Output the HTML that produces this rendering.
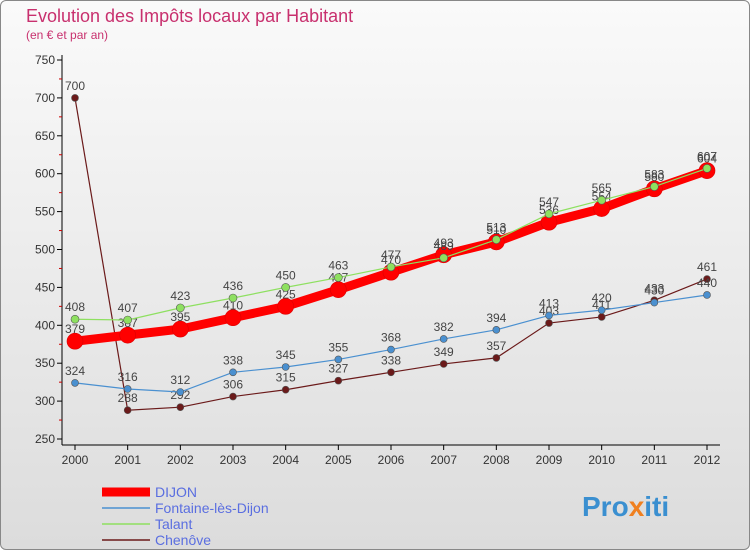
<!DOCTYPE html>
<html><head><meta charset="utf-8"><style>
body{margin:0;width:750px;height:550px;overflow:hidden;font-family:"Liberation Sans",sans-serif;}
#c{position:absolute;left:0;top:0;width:748px;height:548px;border:1px solid #888;border-radius:6px;background:linear-gradient(#fafafa,#dcdcdc);}
</style></head><body>
<div id="c"></div>
<svg id="s" width="750" height="550" style="position:absolute;left:0;top:0" font-family="Liberation Sans, sans-serif">
<text x="26" y="22" font-size="18" fill="#c8306e">Evolution des Impôts locaux par Habitant</text>
<text x="26" y="39" font-size="12" fill="#c8306e">(en € et par an)</text>
<g id="axes"></g><g id="series"></g><g id="legend"></g>
<text x="582" y="516" font-size="28" font-weight="bold" fill="#3a8fd0">Pro<tspan fill="#f08020">x</tspan>iti</text>
</svg>
<script>
const years=[2000,2001,2002,2003,2004,2005,2006,2007,2008,2009,2010,2011,2012];
const yTicks=[250,300,350,400,450,500,550,600,650,700,750];
const dijon=[379,387,395,410,425,447,470,493,510,536,554,580,604];
const fontaine=[324,316,312,338,345,355,368,382,394,413,420,430,440];
const talant=[408,407,423,436,450,463,477,489,513,547,565,583,607];
const chenove=[700,288,292,306,315,327,338,349,357,403,411,433,461];
const names=["DIJON","Fontaine-lès-Dijon","Talant","Chenôve"];
const NS="http://www.w3.org/2000/svg";
const X=i=>75+i*(707-75)/12;
const Y=v=>439-(v-250)*(439-60)/500;
function mk(t,a,p){const e=document.createElementNS(NS,t);for(const k in a)e.setAttribute(k,a[k]);p.appendChild(e);return e;}
const ax=document.getElementById('axes');
let l=mk('line',{x1:62,y1:55,x2:62,y2:445,stroke:'#000'},ax);


l=mk('line',{x1:62,y1:445,x2:720,y2:445,stroke:'#000'},ax);


yTicks.forEach(v=>{
  mk('line',{x1:57,y1:Y(v),x2:62,y2:Y(v),stroke:'#000'},ax);
  if(v<750)mk('line',{x1:59,y1:Y(v+25),x2:62,y2:Y(v+25),stroke:'#c00'},ax);
  const t=mk('text',{x:55,y:Y(v)+4,'font-size':12,'text-anchor':'end',fill:'#333'},ax);
  t.textContent=v;
  
  
});
years.forEach((yr,i)=>{
  mk('line',{x1:X(i),y1:445,x2:X(i),y2:450,stroke:'#000'},ax);
  const t=mk('text',{x:X(i),y:464,'font-size':12,'text-anchor':'middle',fill:'#333'},ax);
  t.textContent=yr;
  
  
});
const sg=document.getElementById('series');
const defs=[
 {d:chenove,c:'#6b1a1a',w:1.2,r:3.5,n:'chenove'},
 {d:fontaine,c:'#4a90d0',w:1.2,r:3.5,n:'fontaine'},
 {d:dijon,c:'#ff0000',w:9,r:8,n:'dijon'},
 {d:talant,c:'#8ee060',w:1.2,r:4,n:'talant'}];
defs.forEach(s=>{
  const g=mk('g',{},sg);
  
  
  const p=mk('polyline',{points:s.d.map((v,i)=>X(i)+','+Y(v)).join(' '),fill:'none',stroke:s.c,'stroke-width':s.w},g);
  
  
  s.d.forEach((v,i)=>{
    const c=mk('circle',{cx:X(i),cy:Y(v),r:s.r,fill:s.c,stroke:s.n=='dijon'?'#d00':'#555','stroke-width':0.6},g);
    
    
    const t=mk('text',{x:X(i),y:Y(v)-8,'font-size':12,'text-anchor':'middle',fill:'#444'},g);
    t.textContent=v;
    
    
  });
});
const lg=document.getElementById('legend');
const lc=['#ff0000','#4a90d0','#8ee060','#6b1a1a'],lw=[9,1.5,1.5,1.5];
names.forEach((n,i)=>{
  const y=492+i*16;
  const g=mk('g',{},lg);
  
  
  mk('line',{x1:102,y1:y,x2:150,y2:y,stroke:lc[i],'stroke-width':lw[i]},g);
  const t=mk('text',{x:155,y:y+5,'font-size':14,fill:'#5a6ee0'},g);
  t.textContent=n;
});
</script>
</body></html>
